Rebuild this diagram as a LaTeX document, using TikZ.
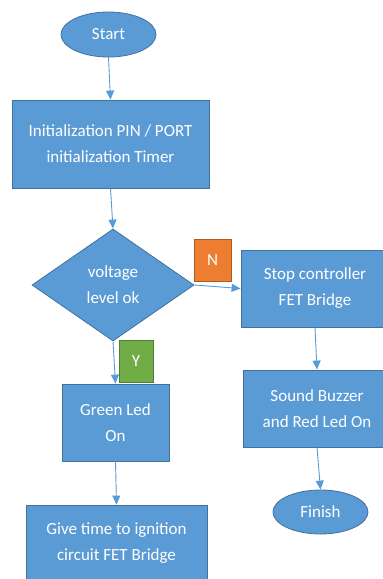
\documentclass[tikz,border=0pt]{standalone}
\usepackage{fontspec}
\setmainfont{Carlito}
\usepackage{tikz}
\usetikzlibrary{shapes.geometric,arrows.meta}

\definecolor{boxblue}{HTML}{5B9BD5}
\definecolor{edgeblue}{HTML}{41719C}
\definecolor{tagorange}{HTML}{ED7D31}
\definecolor{edgeorange}{HTML}{AE5A21}
\definecolor{taggreen}{HTML}{70AD47}
\definecolor{edgegreen}{HTML}{507E32}

\tikzset{
  blk/.style={rectangle, draw=edgeblue, fill=boxblue, line width=0.8pt,
    text=white, align=center, inner sep=0pt,
    font=\fontsize{17}{26}\selectfont},
  term/.style={blk, ellipse},
  decide/.style={blk, diamond},
  tag/.style={rectangle, line width=0.8pt, text=white, inner sep=0pt,
    minimum width=#1, minimum height=42pt, font=\fontsize{17}{20}\selectfont},
  flow/.style={draw=boxblue, line width=0.9pt,
    -{Triangle[length=9pt,width=8pt]}}
}

\begin{document}
\begin{tikzpicture}[x=1pt,y=-1pt]
    \useasboundingbox (0,0) rectangle (383,579);
    \clip (0,0) rectangle (383,579);

    \node[term, minimum width=95pt, minimum height=45pt] (start) at (108.5,34.5) {Start};
    \node[blk, minimum width=197pt, minimum height=88pt] (init) at (110.5,144)
        {Initialization PIN / PORT\\initialization Timer};
    \node[decide, minimum width=162pt, minimum height=112pt] (volt) at (113,285)
        {voltage\\level ok};
    \node[blk, minimum width=148pt, minimum height=77pt] (stop) at (315,288.5)
        {Stop controller\\FET Bridge};
    \node[blk, minimum width=148pt, minimum height=77pt] (buzz) at (317,408.5)
        {Sound Buzzer\\and Red Led On};
    \node[term, minimum width=95pt, minimum height=44pt] (finish) at (320.5,512) {Finish};
    \node[blk, minimum width=107pt, minimum height=77pt] (green) at (115.5,422.5)
        {Green Led\\On};
    \node[blk, minimum width=181pt, minimum height=76pt] (give) at (116.5,543)
        {Give time to ignition\\circuit FET Bridge};

    % branch tags
    \node[tag=37pt, draw=edgeorange, fill=tagorange] (no) at (212.5,260) {N};
    \node[tag=34pt, draw=edgegreen, fill=taggreen] (yes) at (136,361) {Y};

    \draw[flow] (start.south) -- (init.north);
    \draw[flow] (init.south) -- (volt.north);
    \draw[flow] (volt.east) -- (stop.west);
    \draw[flow] (volt.south) -- (green.north);
    \draw[flow] (green.south) -- (give.north);
    \draw[flow] (stop.south) -- (buzz.north);
    \draw[flow] (buzz.south) -- (finish.north);
\end{tikzpicture}
\end{document}
